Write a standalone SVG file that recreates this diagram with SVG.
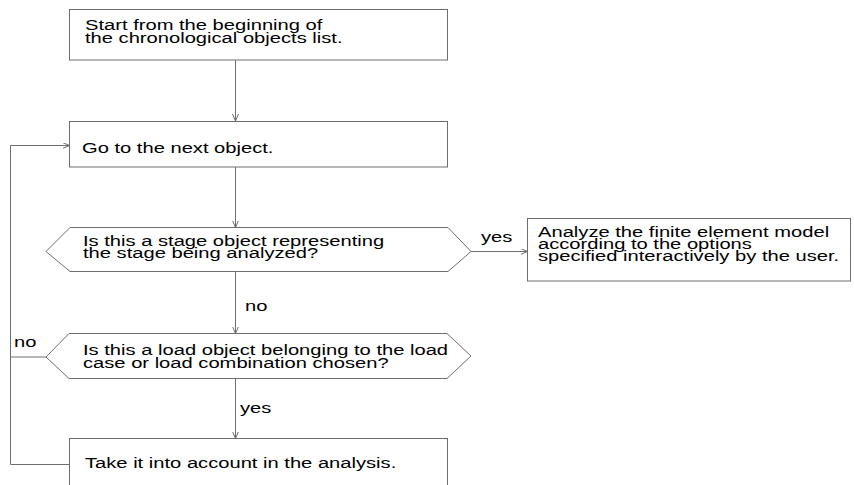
<svg xmlns="http://www.w3.org/2000/svg" width="854" height="485" viewBox="0 0 854 485">
  <defs>
    <style>
      .shape { fill: #ffffff; stroke: #6e6e6e; stroke-width: 1; }
      .wire { fill: none; stroke: #6e6e6e; stroke-width: 1; }
      .t { font-family: "Liberation Sans", Arial, sans-serif; font-size: 15.5px; fill: #000000; }
    </style>
    <marker id="arrow" markerUnits="userSpaceOnUse" markerWidth="10" markerHeight="8" refX="7" refY="3" orient="auto">
      <path d="M0,0 L7,3 L0,6" fill="none" stroke="#6e6e6e" stroke-width="1"/>
    </marker>
  </defs>
  <rect width="854" height="485" fill="#ffffff"/>

  <!-- connectors -->
  <g id="connectors">
    <line class="wire" x1="235.5" y1="60" x2="235.5" y2="121" marker-end="url(#arrow)"/>
    <line class="wire" x1="235.5" y1="167" x2="235.5" y2="227.5" marker-end="url(#arrow)"/>
    <line class="wire" x1="471" y1="251.5" x2="527.5" y2="251.5" marker-end="url(#arrow)"/>
    <line class="wire" x1="235.5" y1="271.5" x2="235.5" y2="333.5" marker-end="url(#arrow)"/>
    <line class="wire" x1="235.5" y1="378.5" x2="235.5" y2="438.5" marker-end="url(#arrow)"/>
    <!-- "no" loop back to the next object -->
    <polyline class="wire" points="46,357 10.5,357 10.5,145.5 69.5,145.5" marker-end="url(#arrow)"/>
    <!-- loop from the bottom box -->
    <line class="wire" x1="10.5" y1="464.5" x2="69.5" y2="464.5"/>
    <line class="wire" x1="10.5" y1="357" x2="10.5" y2="464.5"/>
    <text class="t" transform="translate(481,242) scale(1.3,1)">yes</text>
    <text class="t" transform="translate(245,311) scale(1.3,1)">no</text>
    <text class="t" transform="translate(14,347) scale(1.3,1)">no</text>
    <text class="t" transform="translate(240,413) scale(1.3,1)">yes</text>
  </g>

  <g id="start">
    <rect class="shape" x="69.5" y="9.5" width="378" height="50.5"/>
    <text class="t" transform="translate(85,30) scale(1.3,1)">
      <tspan x="0" y="0">Start from the beginning of</tspan>
      <tspan x="0" y="13">the chronological objects list.</tspan>
    </text>
  </g>

  <g id="next-object">
    <rect class="shape" x="69.5" y="121.5" width="378" height="45.5"/>
    <text class="t" transform="translate(82,152.5) scale(1.3,1)">Go to the next object.</text>
  </g>

  <g id="stage-check">
    <polygon class="shape" points="46,251.5 70,227.5 448,227.5 471,251.5 448,271.5 70,271.5"/>
    <text class="t" transform="translate(83,245.5) scale(1.3,1)">
      <tspan x="0" y="0">Is this a stage object representing</tspan>
      <tspan x="0" y="12.5">the stage being analyzed?</tspan>
    </text>
  </g>

  <g id="analyze">
    <rect class="shape" x="527.5" y="218.5" width="323" height="62.5"/>
    <text class="t" transform="translate(538,236.5) scale(1.3,1)">
      <tspan x="0" y="0">Analyze the finite element model</tspan>
      <tspan x="0" y="12.5">according to the options</tspan>
      <tspan x="0" y="25">specified interactively by the user.</tspan>
    </text>
  </g>

  <g id="load-check">
    <polygon class="shape" points="46,357 69,333.5 447,333.5 471,356 447,378.5 69,378.5"/>
    <text class="t" transform="translate(83,354.5) scale(1.3,1)">
      <tspan x="0" y="0">Is this a load object belonging to the load</tspan>
      <tspan x="0" y="13">case or load combination chosen?</tspan>
    </text>
  </g>

  <g id="take-into-account">
    <rect class="shape" x="69.5" y="438.5" width="378" height="60"/>
    <text class="t" transform="translate(85,468) scale(1.3,1)">Take it into account in the analysis.</text>
  </g>
</svg>
